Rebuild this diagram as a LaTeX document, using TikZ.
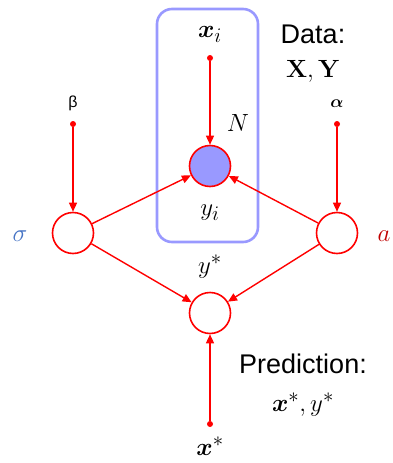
\documentclass[tikz,border=0pt]{standalone}
\usepackage[no-math]{fontspec}
\setmainfont{Liberation Sans}
\usepackage{amsmath,bm}
\usetikzlibrary{arrows.meta}
\definecolor{edgered}{RGB}{255,0,0}
\definecolor{platecol}{RGB}{153,153,255}
\definecolor{sigblue}{RGB}{68,114,196}
\definecolor{adark}{RGB}{192,0,0}
\begin{document}
\begin{tikzpicture}[x=1pt,y=-1pt,
  rv/.style={circle,draw=edgered,line width=1.6pt,minimum size=41pt,inner sep=0pt},
  obs/.style={rv,fill=platecol},
  dotnode/.style={circle,fill=edgered,inner sep=0pt,minimum size=6pt},
  edge/.style={draw=edgered,line width=1.4pt,-{Triangle[length=9pt,width=8pt]}},
  lbl/.style={inner sep=0pt,font=\fontsize{31}{35}\selectfont},
  txt/.style={inner sep=0pt,font=\fontsize{27}{32}\selectfont}]
\useasboundingbox (0,0) rectangle (393,463);
\draw[platecol,line width=2.6pt,rounded corners=15pt] (157,9) rectangle (258,242);
\node[obs] (yi) at (210,166) {};
\node[rv] (sig) at (73,233) {};
\node[rv] (a) at (337,233) {};
\node[rv] (ys) at (210,313) {};
\node[dotnode] (xid) at (210,58) {};
\node[dotnode] (bd) at (73,124) {};
\node[dotnode] (ad) at (337,124) {};
\node[dotnode] (xsd) at (210,424) {};
\node[lbl] (xil) at (210,34) {$\bm{x}_i$};
\node[lbl] (Nl) at (238,123) {$N$};
\node[lbl] (yil) at (210,213) {$y_i$};
\node[lbl] (ysl) at (210,267) {$y^*$};
\node[lbl] (xsl) at (210,446) {$\bm{x}^*$};
\node[inner sep=0pt,font=\fontsize{16}{18}\selectfont] (bl) at (73,103) {β};
\node[inner sep=0pt,font=\fontsize{19}{21}\selectfont] (al) at (337,104) {$\bm{\alpha}$};
\node[lbl,text=sigblue] (sl) at (20,236) {$\sigma$};
\node[lbl,text=adark] (aal) at (384,236) {$a$};
\node[txt] (data) at (313,34) {Data:};
\node[lbl] (xy) at (313,71) {$\mathbf{X},\mathbf{Y}$};
\node[txt] (pred) at (303,364) {Prediction:};
\node[lbl] (xys) at (303,405) {$\bm{x}^*, y^*$};
\draw[edge] (xid) -- (yi);
\draw[edge] (bd) -- (sig);
\draw[edge] (ad) -- (a);
\draw[edge] (sig) -- (yi);
\draw[edge] (a) -- (yi);
\draw[edge] (sig) -- (ys);
\draw[edge] (a) -- (ys);
\draw[edge] (xsd) -- (ys);
\end{tikzpicture}
\end{document}
